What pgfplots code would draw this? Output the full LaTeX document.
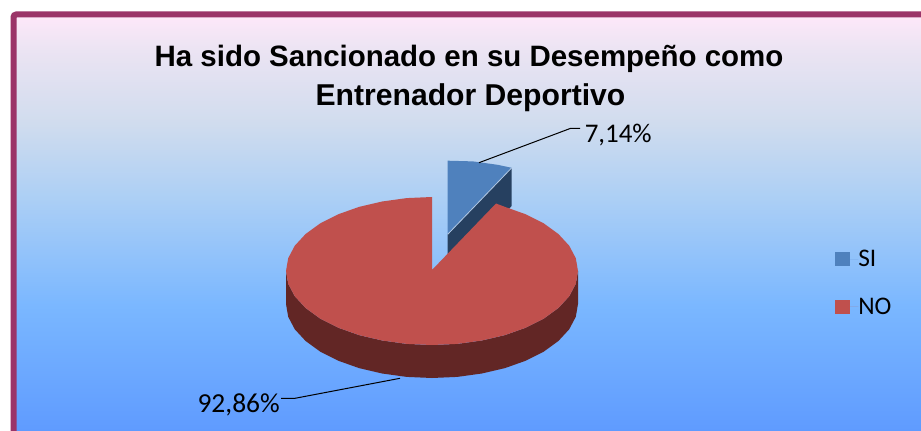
\documentclass[border=0pt]{standalone}
\usepackage{fontspec}
\setmainfont{Liberation Sans}
\newfontfamily\labelfont{Carlito}
\usepackage{pgfplots}
\pgfplotsset{compat=1.18}

\definecolor{frame}{RGB}{155,52,104}
\definecolor{siTop}{RGB}{79,129,189}
\definecolor{siSide}{RGB}{38,64,96}
\definecolor{noTop}{RGB}{192,80,77}
\definecolor{noSide}{RGB}{98,38,37}
\definecolor{bgA}{RGB}{95,155,255}
\definecolor{bgB}{RGB}{122,183,255}
\definecolor{bgC}{RGB}{172,207,245}
\definecolor{bgD}{RGB}{208,220,238}
\definecolor{bgE}{RGB}{236,228,243}
\definecolor{bgF}{RGB}{254,232,249}

% Panel background, from pale pink at the top to saturated blue at the bottom
\pgfdeclareverticalshading{panelbg}{100bp}{
  color(0bp)=(bgA);
  color(25bp)=(bgA);
  color(40bp)=(bgB);
  color(53bp)=(bgC);
  color(62bp)=(bgD);
  color(71bp)=(bgE);
  color(75bp)=(bgF);
  color(100bp)=(bgF)}

\begin{document}
\begin{tikzpicture}
\begin{axis}[
  scale only axis, width=690.75pt, height=323.25pt,
  xmin=0, xmax=921, ymin=0, ymax=431, y dir=reverse,
  hide axis,
  legend style={at={(axis cs:835,251)}, anchor=north west, yshift=1pt,
    draw=none, fill=none, font=\labelfont\fontsize{19}{22}\selectfont,
    row sep=22pt, inner sep=0pt, nodes={inner sep=0pt, anchor=west}},
  legend cell align=left,
  % the swatch's box includes the gap before the entry text
  legend image code/.code={
    \fill[#1] (0pt,-5.25pt) rectangle (11.25pt,5.25pt);
    \path (0pt,0pt) -- (17.25pt,0pt);
  },
]
% Frame and gradient panel
\fill[white] (axis cs:0,0) rectangle (axis cs:921,431);
\path[shading=panelbg] (axis cs:14,15) rectangle (axis cs:921,431);
\draw[frame, line width=4.5pt, rounded corners=2pt]
  (axis cs:13.5,445) -- (axis cs:13.5,14.5) -- (axis cs:935,14.5);

% Detached SI slice: cut face
\addplot[fill=siSide, draw=none, forget plot] coordinates {
  (447.7,234.3) (511.7,167.8) (511.7,206) (447.7,272)} -- cycle;
% SI slice: top face
\addplot[fill=siTop, draw=none] coordinates {
  (447.7,234.3) (447.7,160.7) (473,161.4) (497.6,164.8) (511.7,167.8)} -- cycle;
\addlegendentry{SI}
\addplot[draw=siTop!45!white, line width=0.6pt, forget plot] coordinates {
  (447.7,234.3) (511.7,167.8)};

% NO slice: rim
\addplot[fill=noSide, draw=none, forget plot] coordinates {
  (286,271) (288.2,283.8) (294.8,296.3) (305.6,308) (320.2,318.6) (338.2,327.7)
  (359,335.1) (382.1,340.5) (406.7,343.9) (432,345) (457.3,343.9) (481.9,340.5)
  (505,335.1) (525.8,327.7) (543.8,318.6) (558.4,308) (569.2,296.3) (575.8,283.8)
  (578,271) (578,304) (575.8,316.8) (569.2,329.3) (558.4,341) (543.8,351.6)
  (525.8,360.7) (505,368.1) (481.9,373.5) (457.3,376.9) (432,378) (406.7,376.9)
  (382.1,373.5) (359,368.1) (338.2,360.7) (320.2,351.6) (305.6,341) (294.8,329.3)
  (288.2,316.8) (286,304)} -- cycle;
% NO slice: top face
\addplot[fill=noTop, draw=none] coordinates {
  (432,270) (432,197) (406.7,198.1) (382.1,201.5) (359,206.9) (338.2,214.3)
  (320.2,223.4) (305.6,234) (294.8,245.7) (288.2,258.2) (286,271) (288.2,283.8)
  (294.8,296.3) (305.6,308) (320.2,318.6) (338.2,327.7) (359,335.1) (382.1,340.5)
  (406.7,343.9) (432,345) (457.3,343.9) (481.9,340.5) (505,335.1) (525.8,327.7)
  (543.8,318.6) (558.4,308) (569.2,296.3) (575.8,283.8) (578,271) (575.8,258.2)
  (569.2,245.7) (558.4,234) (543.8,223.4) (525.8,214.3) (505,206.9) (496,203.5)} -- cycle;
\addlegendentry{NO}

% Leader lines
\addplot[black, line width=0.75pt, forget plot] coordinates {
  (479,162.7) (570.7,128.3) (580,128.3)};
\addplot[black, line width=0.75pt, forget plot] coordinates {
  (400,378.3) (295,398.3) (281,398.3)};

% Title and value labels
\node[anchor=base, font=\bfseries\fontsize{22.1}{25}\selectfont]
  at (axis cs:469,67) {Ha sido Sancionado en su Desempeño como};
\node[anchor=base, font=\bfseries\fontsize{22.6}{25}\selectfont]
  at (axis cs:470.5,106) {Entrenador Deportivo};
\node[anchor=base west, inner sep=0pt, font=\labelfont\fontsize{20.2}{24}\selectfont]
  at (axis cs:584.5,143) {7,14\%};
\node[anchor=base east, inner sep=0pt, font=\labelfont\fontsize{20.6}{24}\selectfont]
  at (axis cs:280,412) {92,86\%};
\end{axis}
\end{tikzpicture}
\end{document}
